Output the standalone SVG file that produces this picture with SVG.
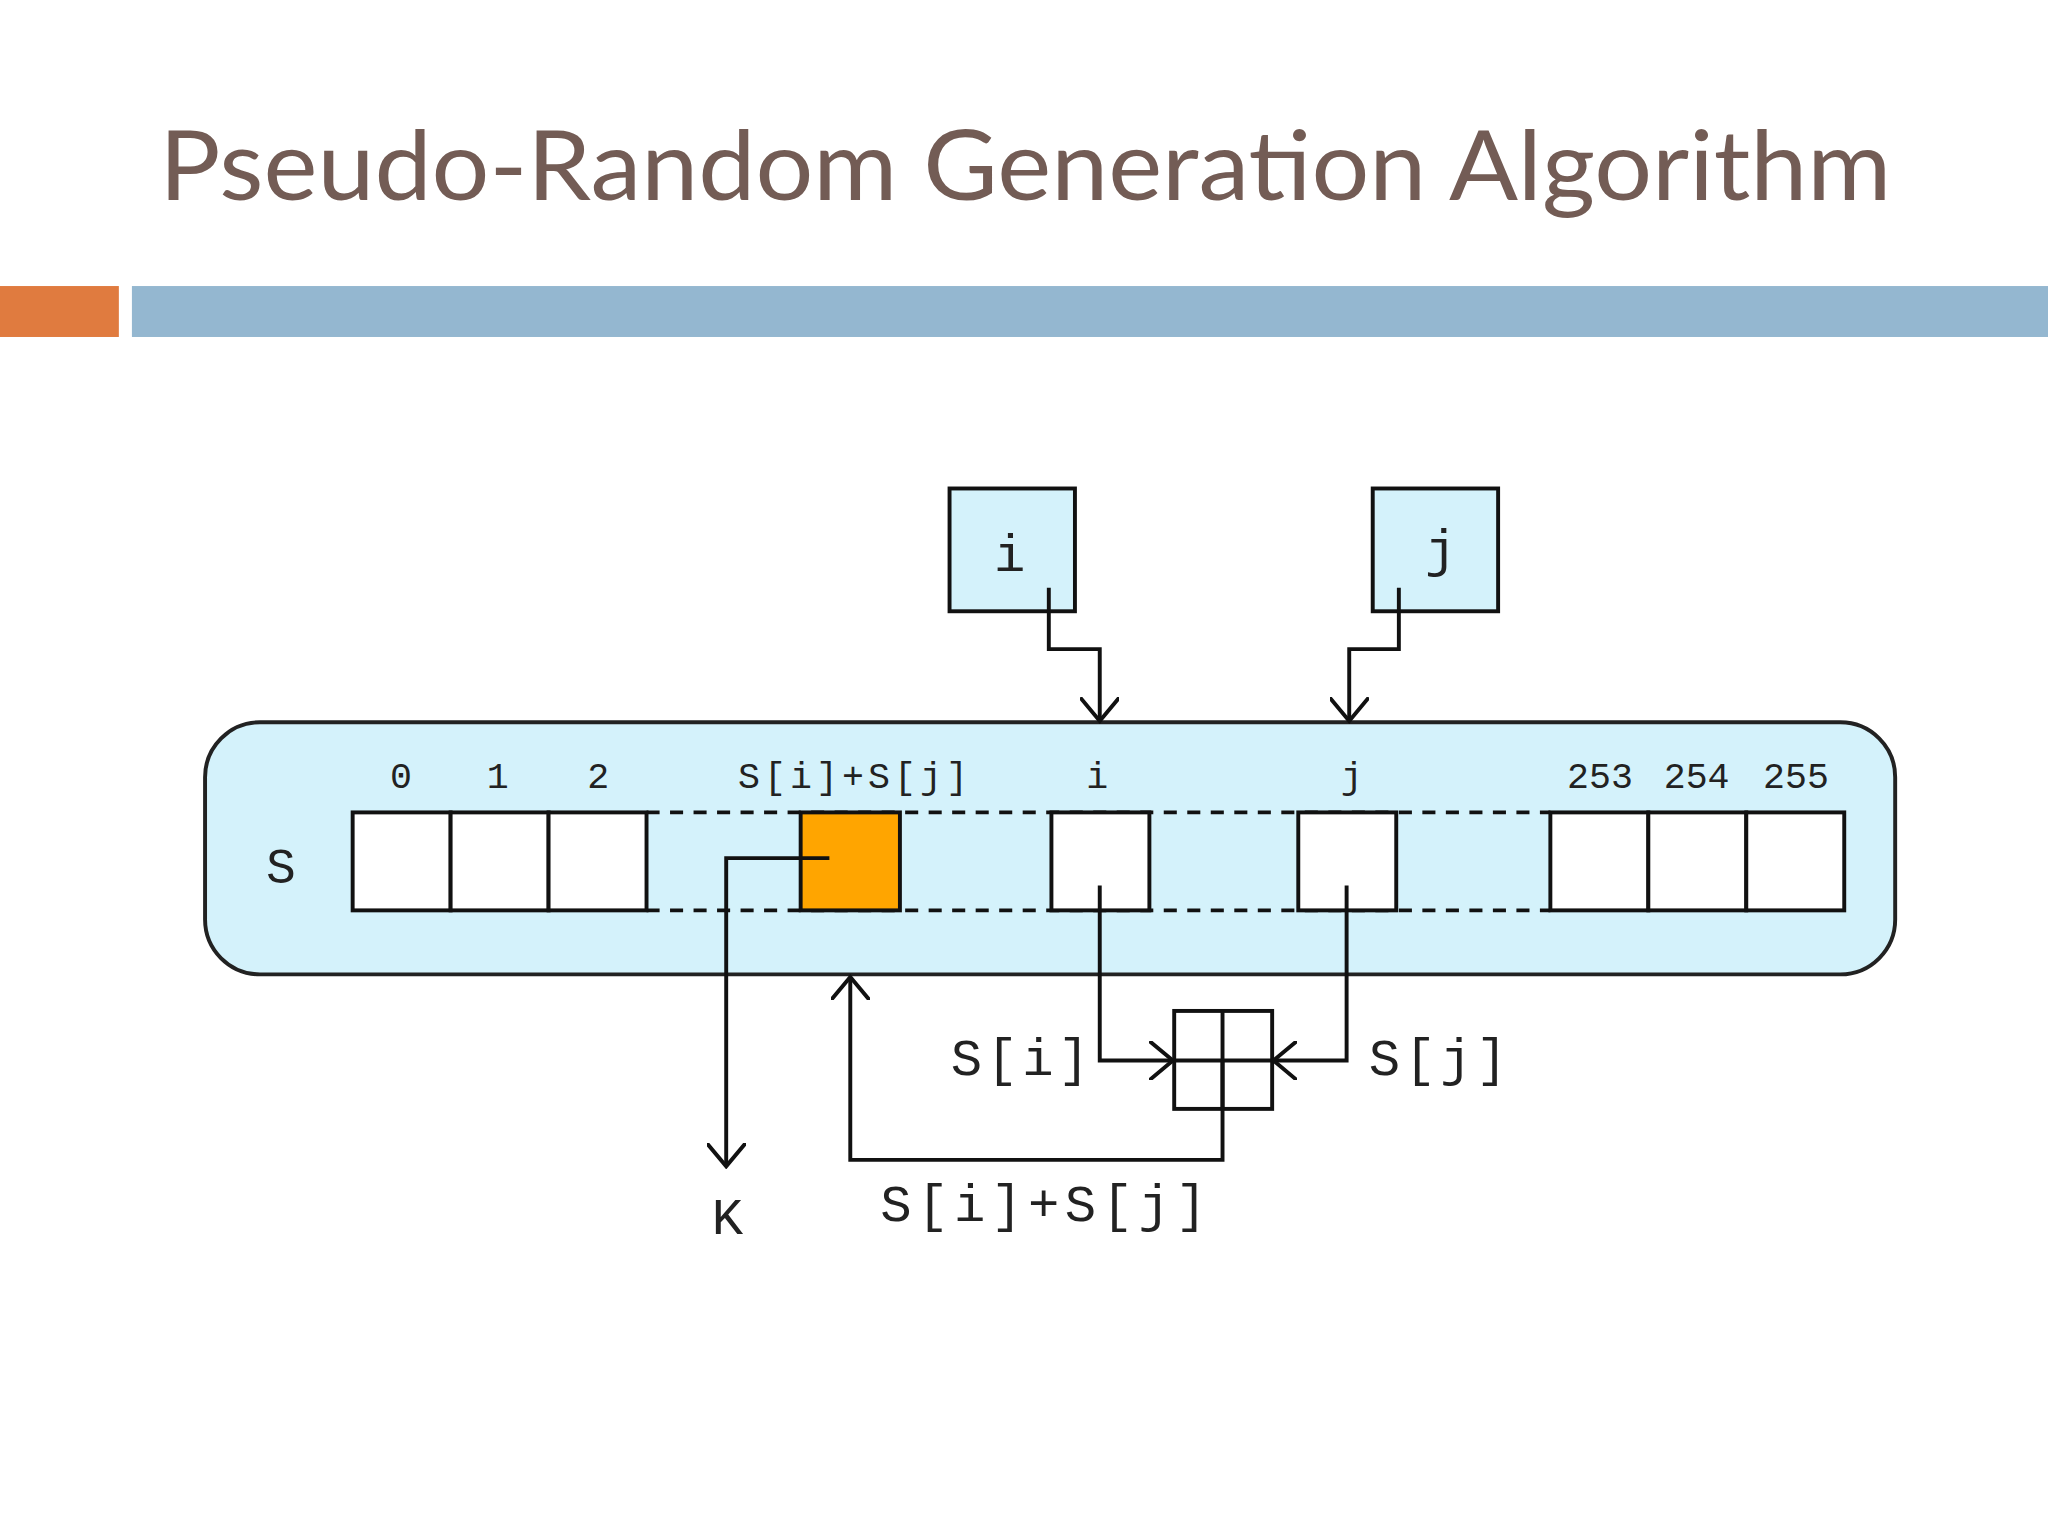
<svg xmlns="http://www.w3.org/2000/svg" width="2048" height="1536" viewBox="0 0 2048 1536">
<style>
.m{font-family:"Liberation Mono","DejaVu Sans Mono",monospace;fill:#222;text-anchor:middle}
.ln{fill:none;stroke:#111;stroke-width:3}
.c{fill:#fff;stroke:#111;stroke-width:3}
</style>
<defs><marker id="a" markerWidth="20" markerHeight="30" refX="18" refY="15" orient="auto" markerUnits="userSpaceOnUse"><path d="M0,0 L18,15 L0,30" fill="none" stroke="#111" stroke-width="3"/></marker></defs>
<rect width="2048" height="1536" fill="#fff"/>
<g transform="scale(1.30612)">
<text x="122" y="153" font-family="Lato,'Open Sans',sans-serif" font-size="74" fill="#735c55" textLength="1326" lengthAdjust="spacingAndGlyphs">Pseudo-Random Generation Algorithm</text>
<rect x="0" y="219" width="91" height="39" fill="#e07b3f"/>
<rect x="101" y="219" width="1467" height="39" fill="#94b7d0"/>
<g id="S"><rect x="157" y="553" width="1294" height="193" rx="42" fill="#d4f2fb" stroke="#222" stroke-width="3"/>
<text class="m" x="215" y="676" font-size="38">S</text></g>
<g id="ibox"><rect x="727" y="374" width="96" height="94" fill="#d4f2fb" stroke="#111" stroke-width="3"/><text class="m" x="773" y="437" font-size="40">i</text></g>
<g id="jbox"><rect x="1051" y="374" width="96" height="94" fill="#d4f2fb" stroke="#111" stroke-width="3"/><text class="m" x="1103" y="433" font-size="40">j</text></g>
<g id="cells">
<path d="M495,622H1187M495,697H1187" stroke="#111" stroke-width="3" stroke-dasharray="10,8"/>
<rect class="c" x="270" y="622" width="75" height="75"/><rect class="c" x="345" y="622" width="75" height="75"/><rect class="c" x="420" y="622" width="75" height="75"/>
<rect x="613" y="622" width="76" height="75" fill="#ffa500" stroke="#111" stroke-width="3"/>
<rect class="c" x="805" y="622" width="75" height="75" fill="#fbfcf6"/>
<rect class="c" x="994" y="622" width="75" height="75"/>
<rect class="c" x="1187" y="622" width="75" height="75"/><rect class="c" x="1262" y="622" width="75" height="75"/><rect class="c" x="1337" y="622" width="75" height="75"/>
<g font-size="28"><text class="m" x="307" y="603">0</text><text class="m" x="381" y="603">1</text><text class="m" x="458" y="603">2</text>
<text class="m" x="653" y="603" textLength="176">S[i]+S[j]</text><text class="m" x="840" y="603">i</text><text class="m" x="1035" y="603">j</text>
<text class="m" x="1225" y="603">253</text><text class="m" x="1299" y="603">254</text><text class="m" x="1375" y="603">255</text></g>
</g>
<g id="adder"><rect x="899" y="774" width="75" height="75" fill="#fff" stroke="#111" stroke-width="3"/><path d="M936,774V849M899,812H974" class="ln"/></g>
<g id="connectors">
<path class="ln" d="M803,450V497H842V552" marker-end="url(#a)"/>
<path class="ln" d="M1071,450V497H1033V552" marker-end="url(#a)"/>
<path class="ln" d="M842,678V812H898" marker-end="url(#a)"/>
<path class="ln" d="M1031,678V812H975" marker-end="url(#a)"/>
<path class="ln" d="M936,812V888H651V748" marker-end="url(#a)"/>
<path class="ln" d="M635,657H556V893" marker-end="url(#a)"/>
</g>
<g id="labels" font-size="40">
<text class="m" x="781" y="823" textLength="106">S[i]</text>
<text class="m" x="1101" y="823" textLength="106">S[j]</text>
<text class="m" x="557" y="945">K</text>
<text class="m" x="799" y="935" textLength="250">S[i]+S[j]</text>
</g>
</g>
</svg>
